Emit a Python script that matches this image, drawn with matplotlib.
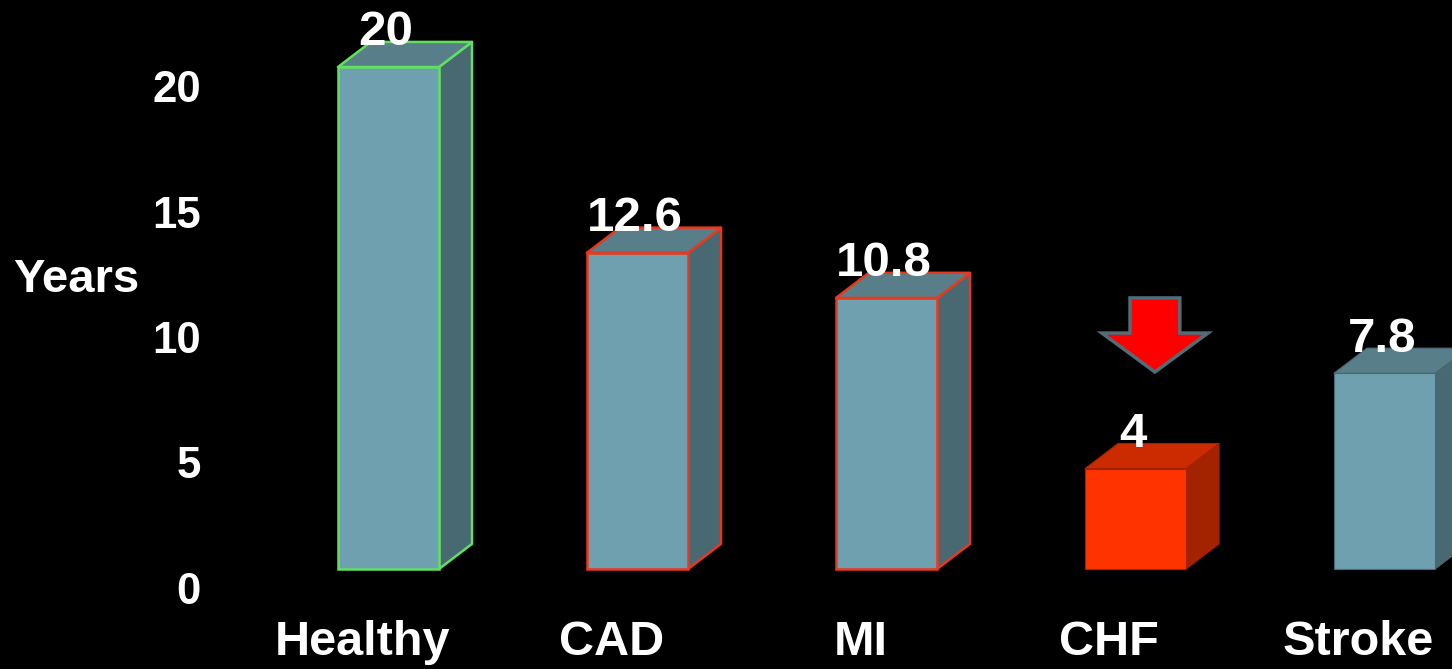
import matplotlib
matplotlib.use("Agg")
import matplotlib.pyplot as plt
from matplotlib.patches import Polygon

categories = ["Healthy", "CAD", "MI", "CHF", "Stroke"]
values = [20, 12.6, 10.8, 4, 7.8]
value_labels = ["20", "12.6", "10.8", "4", "7.8"]
yticks = [0, 5, 10, 15, 20]

FONT = "Liberation Sans"
BG = "black"

# bar styling
front_col = ["#6FA0B0"] * 5
top_col = ["#587F89"] * 5
side_col = ["#486872"] * 5
edge_col = ["#5FE05F", "#E8381E", "#E8381E", None, None]
front_col[3], top_col[3], side_col[3] = "#FF3300", "#CC2A00", "#A32200"

width = 0.406      # bar width (category units)
dx, dy = 0.1325, 1.0  # depth offset of the 3D extrusion

fig = plt.figure(figsize=(14.52, 6.69), dpi=100, facecolor=BG)
ax = fig.add_axes([0, 0, 1, 1], facecolor=BG)
ax.set_xlim(-1.560, 4.271)
ax.set_ylim(-3.984, 22.67)
ax.axis("off")

for i, (cat, v) in enumerate(zip(categories, values)):
    x0 = i - width / 2
    x1 = i + width / 2
    ec = edge_col[i] if edge_col[i] else side_col[i]
    lw = 1.8 if edge_col[i] else 0.8
    # side face
    ax.add_patch(Polygon([(x1, 0), (x1 + dx, dy), (x1 + dx, v + dy), (x1, v)],
                         closed=True, facecolor=side_col[i], edgecolor=ec,
                         linewidth=lw, joinstyle="round", zorder=2))
    # top face
    ax.add_patch(Polygon([(x0, v), (x0 + dx, v + dy), (x1 + dx, v + dy), (x1, v)],
                         closed=True, facecolor=top_col[i], edgecolor=ec,
                         linewidth=lw, joinstyle="round", zorder=2))
    # front face
    ax.bar(i, v, width=width, bottom=0, color=front_col[i], edgecolor=ec,
           linewidth=lw, zorder=3)
    # value label
    ax.text(i - 0.01, v + 0.86, value_labels[i], ha="center", va="baseline",
            fontsize=35.5, fontweight="bold", color="white", family=FONT, zorder=5)
    # category label
    ax.text(i - 0.105, -3.43, cat, ha="center", va="baseline",
            fontsize=35, fontweight="bold", color="white", family=FONT)

# y tick labels
for t in yticks:
    ax.text(-0.753, t - 1.394, str(t), ha="right", va="baseline",
            fontsize=31.5, fontweight="bold", color="white", family=FONT)

ax.text(-1.255, 11.04, "Years", ha="center", va="baseline",
        fontsize=34, fontweight="bold", color="white", family=FONT)

# downward arrow pointing at the CHF bar
ci = categories.index("CHF")
cx = ci + 0.078
tip = values[ci] + 3.85
sw, hw = 0.10, 0.213
head = tip + 1.55
top = tip + 2.95
ax.add_patch(Polygon([(cx - sw, top), (cx + sw, top), (cx + sw, head),
                      (cx + hw, head), (cx, tip), (cx - hw, head),
                      (cx - sw, head)], closed=True, facecolor="#FF0000",
                     edgecolor="#4E6E7A", linewidth=2.5, joinstyle="miter",
                     zorder=4))

fig.savefig("out.png", dpi=100, facecolor=BG)
